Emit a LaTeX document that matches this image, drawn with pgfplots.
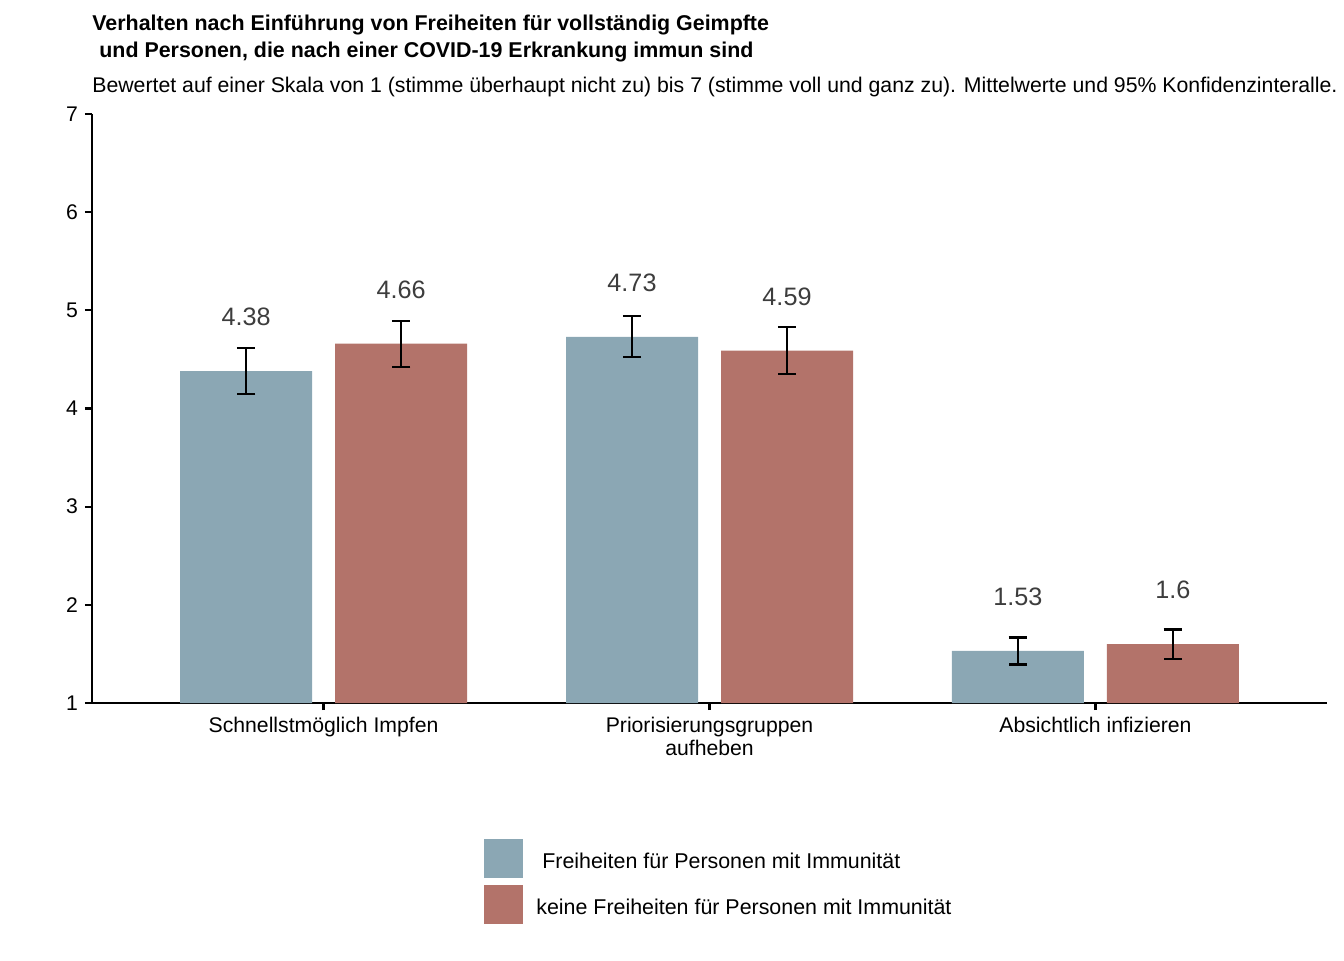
\documentclass[border=0pt]{standalone}
\usepackage{pgfplots}
\pgfplotsset{compat=1.18}
\usepackage{fontspec}
\setmainfont{Liberation Sans}
\definecolor{cblue}{HTML}{8BA7B4}
\definecolor{cred}{HTML}{B3736A}
\definecolor{lbl}{HTML}{3D3D3D}
\begin{document}
\begin{tikzpicture}
\begin{axis}[
  scale only axis, width=617.5pt, height=294.5pt,
  xmin=-0.6, xmax=2.6, ymin=1, ymax=7,
  axis lines=left,
  axis line style={-, line width=1.1pt, black},
  ybar=11.5pt, bar width=66pt,
  xtick={0,1,2},
  xticklabels={Schnellstmöglich Impfen, {Priorisierungsgruppen\\aufheben}, Absichtlich infizieren},
  xticklabel style={align=center, font=\fontsize{10.6}{11.5}\selectfont},
  ytick={1,2,3,4,5,6,7},
  yticklabel style={font=\fontsize{10.6}{12}\selectfont},
  tick style={black, line width=1.1pt},
  tick align=outside, major tick length=3.5pt,
  /pgf/number format/assume math mode=true,
  nodes near coords,
  nodes near coords style={anchor=center, yshift=27pt, font=\fontsize{12.6}{14}\selectfont, text=lbl,
    /pgf/number format/fixed, /pgf/number format/precision=2},
  error bars/y dir=both, error bars/y explicit,
  error bars/error bar style={line width=1.1pt, black},
  error bars/error mark options={rotate=90, mark size=4.6pt, line width=1.1pt, black},
  legend cell align=left,
  legend style={draw=none, fill=none, at={(0.3174,-0.2309)}, anchor=north west,
    inner sep=0pt, row sep=3.5pt, nodes={inner sep=0pt, font=\fontsize{10.7}{12}\selectfont},
    /tikz/every odd column/.append style={column sep=6.5pt}},
  legend image code/.code={\fill[#1] (0pt,-8pt) rectangle (19.5pt,11.5pt);},
]
\addplot[fill=cblue, draw=none] coordinates {(0,4.38) +- (0,0.234) (1,4.73) +- (0,0.209) (2,1.53) +- (0,0.137)};
\addlegendentry{\ Freiheiten für Personen mit Immunität}
\addplot[fill=cred, draw=none] coordinates {(0,4.66) +- (0,0.234) (1,4.59) +- (0,0.239) (2,1.6) +- (0,0.148)};
\addlegendentry{keine Freiheiten für Personen mit Immunität}
\end{axis}
\node[anchor=base west, inner sep=0pt, font=\bfseries\fontsize{10.7}{12}\selectfont] at (0pt,336pt) {Verhalten nach Einführung von Freiheiten für vollständig Geimpfte};
\node[anchor=base west, inner sep=0pt, font=\bfseries\fontsize{10.7}{12}\selectfont] at (3.5pt,322.5pt) {und Personen, die nach einer COVID-19 Erkrankung immun sind};
\node[anchor=base west, inner sep=0pt, font=\fontsize{10.63}{12}\selectfont] at (0pt,305pt) {Bewertet auf einer Skala von 1 (stimme überhaupt nicht zu) bis 7 (stimme voll und ganz zu). Mittelwerte und 95\% Konfidenzinteralle.};
\pgfresetboundingbox
\path[use as bounding box] (-46pt,-128.5pt) rectangle (626pt,351.5pt);
\end{tikzpicture}
\end{document}
